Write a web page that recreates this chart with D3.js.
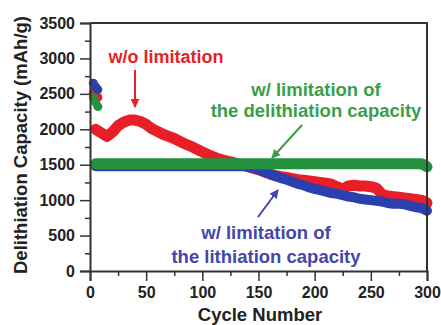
<!DOCTYPE html>
<html>
<head>
<meta charset="utf-8">
<script src="https://cdn.jsdelivr.net/npm/d3@7"></script>
<style>
  body { margin: 0; background: #fff; }
  text { font-family: "Liberation Sans", Arial, sans-serif; font-weight: bold; }
</style>
</head>
<body>
<svg id="chart" width="441" height="325"></svg>
<script>
const cycles = [5,10,15,20,25,30,35,40,45,50,55,60,65,70,75,80,85,90,95,100,
  105,110,115,120,125,130,135,140,145,150,155,160,165,170,175,180,185,190,195,200,
  205,210,215,220,225,230,235,240,245,250,255,260,265,270,275,280,285,290,295,300];

// w/o limitation
const redValues = [2000,1950,1900,1960,2050,2100,2130,2130,2110,2070,2010,1970,1930,1900,1870,1830,1790,1760,1720,1680,
  1645,1610,1580,1560,1540,1520,1500,1475,1450,1430,1400,1370,1345,1330,1320,1305,1290,1280,1270,1260,
  1250,1240,1225,1190,1150,1200,1210,1200,1200,1190,1170,1080,1060,1050,1040,1030,1020,1010,1000,960];

// w/ limitation of the lithiation capacity
const blueValues = [1480,1480,1480,1480,1480,1480,1480,1480,1480,1480,1480,1480,1480,1480,1480,1480,1480,1480,1480,1480,
  1480,1480,1480,1480,1480,1480,1480,1475,1460,1430,1400,1370,1340,1310,1290,1260,1230,1210,1180,1160,
  1140,1120,1100,1090,1070,1050,1040,1020,1010,1000,990,980,960,950,950,940,920,900,890,850];

// w/ limitation of the delithiation capacity
const greenValues = [1515,1515,1515,1515,1515,1515,1515,1515,1515,1515,1515,1515,1515,1515,1515,1515,1515,1515,1515,1515,
  1515,1515,1515,1515,1515,1515,1515,1515,1515,1515,1515,1515,1515,1515,1515,1515,1515,1515,1515,1515,
  1515,1515,1515,1515,1515,1515,1515,1515,1515,1515,1515,1515,1515,1515,1515,1515,1515,1515,1515,1470];

// first (formation) cycles, well above the rest
const firstCycles = [3, 5, 7];
const redFirst = [2520, 2480, 2450];
const blueFirst = [2650, 2600, 2560];
const greenFirst = [2450, 2380, 2320];

const xTicks = [0, 50, 100, 150, 200, 250, 300];
const xMinor = [25, 75, 125, 175, 225, 275];
const yTicks = [0, 500, 1000, 1500, 2000, 2500, 3000, 3500];
const yMinor = [250, 750, 1250, 1750, 2250, 2750, 3250];

const RED = "#e81f27", GREEN = "#23913d", BLUE = "#2c3fae";

const svg = d3.select("#chart");
const plotL = 90, plotR = 427, plotT = 23, plotB = 271;

const x = d3.scaleLinear().domain([0, 300]).range([plotL, plotR]);
const y = d3.scaleLinear().domain([0, 3500]).range([plotB, plotT]);

// arrow heads
const defs = svg.append("defs");
function arrowMarker(id, color) {
    defs.append("marker")
        .attr("id", id)
        .attr("viewBox", "0 0 10 10")
        .attr("refX", 9).attr("refY", 5)
        .attr("markerWidth", 9).attr("markerHeight", 9)
        .attr("markerUnits", "userSpaceOnUse")
        .attr("orient", "auto")
        .append("path")
        .attr("d", "M0,0 L10,5 L0,10 Z")
        .attr("fill", color);
}
arrowMarker("arr-red", RED);
arrowMarker("arr-green", "#3a9e48");
arrowMarker("arr-blue", "#4446a8");

// data
const line = d3.line().x(d => x(d[0])).y(d => y(d[1]));
const series = [
    { vals: redValues, first: redFirst, color: RED, w: 11 },
    { vals: blueValues, first: blueFirst, color: BLUE, w: 10 },
    { vals: greenValues, first: greenFirst, color: GREEN, w: 11 }
];
series.forEach(s => {
    svg.append("path")
        .datum(cycles.map((c, i) => [c, s.vals[i]]))
        .attr("d", line)
        .attr("fill", "none")
        .attr("stroke", s.color)
        .attr("stroke-width", s.w)
        .attr("stroke-linejoin", "round")
        .attr("stroke-linecap", "round");
    svg.selectAll(null)
        .data(firstCycles.map((c, i) => [c, s.first[i]]))
        .enter().append("circle")
        .attr("cx", d => x(d[0]))
        .attr("cy", d => y(d[1]))
        .attr("r", 4.5)
        .attr("fill", s.color);
});

// frame
svg.append("path")
    .attr("d", `M${plotL},${plotT} H${plotR} V${plotB}`)
    .attr("fill", "none")
    .attr("stroke", "#333")
    .attr("stroke-width", 2);

// axes
svg.append("g")
    .attr("transform", `translate(0,${plotB})`)
    .call(d3.axisBottom(x).tickValues(xTicks).tickSize(10).tickPadding(6).tickFormat(d3.format("d")));
svg.append("g")
    .attr("transform", `translate(0,${plotB})`)
    .call(d3.axisBottom(x).tickValues(xMinor).tickSize(5).tickFormat(""))
    .select(".domain").remove();

svg.append("g")
    .attr("transform", `translate(${plotL},0)`)
    .call(d3.axisLeft(y).tickValues(yTicks).tickSize(10).tickPadding(5).tickFormat(d3.format("d")));
svg.append("g")
    .attr("transform", `translate(${plotL},0)`)
    .call(d3.axisLeft(y).tickValues(yMinor).tickSize(5).tickFormat(""))
    .select(".domain").remove();

svg.selectAll(".domain").attr("stroke", "#333").attr("stroke-width", 2);
svg.selectAll(".tick line").attr("stroke", "#333").attr("stroke-width", 1.5);
svg.selectAll(".tick text")
    .attr("fill", "#222")
    .style("font-size", "16px")
    .style("font-family", "'Liberation Sans', Arial, sans-serif")
    .style("font-weight", "bold");

// axis titles
svg.append("text")
    .attr("x", 260).attr("y", 321)
    .attr("text-anchor", "middle")
    .attr("fill", "#222")
    .style("font-size", "18.5px")
    .text("Cycle Number");

svg.append("text")
    .attr("transform", "translate(27,145) rotate(-90)")
    .attr("text-anchor", "middle")
    .attr("fill", "#222")
    .style("font-size", "18.5px")
    .text("Delithiation Capacity (mAh/g)");

// annotations
svg.append("text")
    .attr("x", 166).attr("y", 63)
    .attr("text-anchor", "middle")
    .attr("fill", RED)
    .style("font-size", "18px")
    .text("w/o limitation");
svg.append("line")
    .attr("x1", 135).attr("y1", 70).attr("x2", 135).attr("y2", 107)
    .attr("stroke", RED).attr("stroke-width", 2)
    .attr("marker-end", "url(#arr-red)");

const greenText = svg.append("text")
    .attr("text-anchor", "middle")
    .attr("fill", "#3a9e48")
    .style("font-size", "18.5px");
greenText.append("tspan").attr("x", 316).attr("y", 96).text("w/ limitation of");
greenText.append("tspan").attr("x", 316).attr("y", 117).text("the delithiation capacity");
svg.append("line")
    .attr("x1", 302).attr("y1", 125).attr("x2", 272).attr("y2", 158)
    .attr("stroke", "#3a9e48").attr("stroke-width", 2)
    .attr("marker-end", "url(#arr-green)");

const blueText = svg.append("text")
    .attr("text-anchor", "middle")
    .attr("fill", "#4446a8")
    .style("font-size", "18.5px");
blueText.append("tspan").attr("x", 266).attr("y", 239).text("w/ limitation of");
blueText.append("tspan").attr("x", 266).attr("y", 263).text("the lithiation capacity");
svg.append("line")
    .attr("x1", 258).attr("y1", 217).attr("x2", 278).attr("y2", 190)
    .attr("stroke", "#4446a8").attr("stroke-width", 2)
    .attr("marker-end", "url(#arr-blue)");
</script>
</body>
</html>
